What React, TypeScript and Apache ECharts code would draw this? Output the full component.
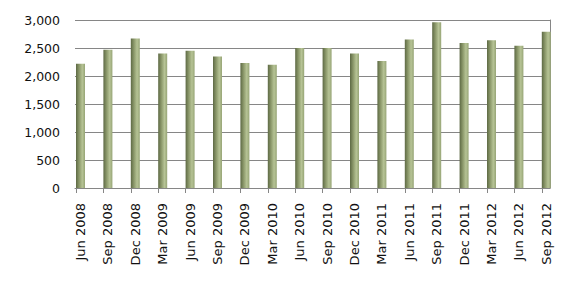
import React, { useEffect, useRef } from "react";
import * as echarts from "echarts";

const categories = [
  "Jun 2008", "Sep 2008", "Dec 2008", "Mar 2009", "Jun 2009", "Sep 2009",
  "Dec 2009", "Mar 2010", "Jun 2010", "Sep 2010", "Dec 2010", "Mar 2011",
  "Jun 2011", "Sep 2011", "Dec 2011", "Mar 2012", "Jun 2012", "Sep 2012",
];
const values = [
  2220, 2470, 2670, 2400, 2450, 2350,
  2230, 2200, 2500, 2500, 2400, 2270,
  2650, 2960, 2590, 2640, 2540, 2790,
];
const yMin = 0;
const yMax = 3000;
const yInterval = 500;

const FONT = "DejaVu Sans";
const GRID_COLOR = "#868686";

export default function App() {
  const ref = useRef<HTMLDivElement>(null);
  useEffect(() => {
    if (!ref.current) return;
    document.body.style.margin = "0";
    const chart = echarts.init(ref.current, undefined, { renderer: "svg" });
    const step = 27.4;
    const n = categories.length;
    const tickLeft = 76;
    const top = 20;
    const bottom = 285 - 188;
    chart.setOption({
      animation: false,
      backgroundColor: "#ffffff",
      grid: [
        { left: tickLeft, width: step * (n - 1), top, bottom },
        { left: tickLeft + 4.5, width: step * (n - 1), top, bottom },
        { left: 75, right: 24, top, bottom },
      ],
      xAxis: [
        {
          gridIndex: 0,
          type: "category",
          boundaryGap: false,
          data: categories,
          axisLine: { show: false },
          axisTick: { show: true, interval: 0, length: 5, lineStyle: { color: GRID_COLOR } },
          axisLabel: { show: false },
          splitLine: { show: false },
        },
        {
          gridIndex: 1,
          type: "category",
          boundaryGap: false,
          data: categories,
          axisLine: { show: false },
          axisTick: { show: false },
          axisLabel: {
            show: true,
            interval: 0,
            rotate: 90,
            margin: 15,
            color: "#111111",
            fontFamily: FONT,
            fontSize: 13,
          },
          splitLine: { show: false },
        },
        {
          gridIndex: 2,
          type: "value",
          min: 0,
          max: 1,
          axisLine: { show: true, lineStyle: { color: GRID_COLOR } },
          axisTick: { show: false },
          axisLabel: { show: false },
          splitLine: { show: false },
        },
      ],
      yAxis: [
        { gridIndex: 0, type: "value", min: yMin, max: yMax, show: false },
        { gridIndex: 1, type: "value", min: yMin, max: yMax, show: false },
        {
          gridIndex: 2,
          type: "value",
          min: yMin,
          max: yMax,
          interval: yInterval,
          axisLine: { show: false },
          axisTick: { show: false },
          axisLabel: {
            margin: 15,
            color: "#111111",
            fontFamily: FONT,
            fontSize: 12.5,
            formatter: (v: number) => v.toLocaleString("en-US"),
          },
          splitLine: { show: true, lineStyle: { color: GRID_COLOR, width: 1 } },
        },
        {
          gridIndex: 2,
          type: "value",
          position: "right",
          min: yMin,
          max: yMax,
          axisLine: { show: true, lineStyle: { color: GRID_COLOR } },
          axisTick: { show: false },
          axisLabel: { show: false },
          splitLine: { show: false },
        },
      ],
      series: [
        {
          type: "bar",
          xAxisIndex: 1,
          yAxisIndex: 1,
          data: values,
          barWidth: 9,
          clip: false,
          z: 5,
          itemStyle: {
            color: new echarts.graphic.LinearGradient(0, 0, 1, 0, [
              { offset: 0, color: "#5d6944" },
              { offset: 0.35, color: "#8b986a" },
              { offset: 0.7, color: "#b6c395" },
              { offset: 1, color: "#97a576" },
            ]),
          },
        },
      ],
    });
    return () => chart.dispose();
  }, []);
  return <div ref={ref} style={{ width: 574, height: 285 }} />;
}
